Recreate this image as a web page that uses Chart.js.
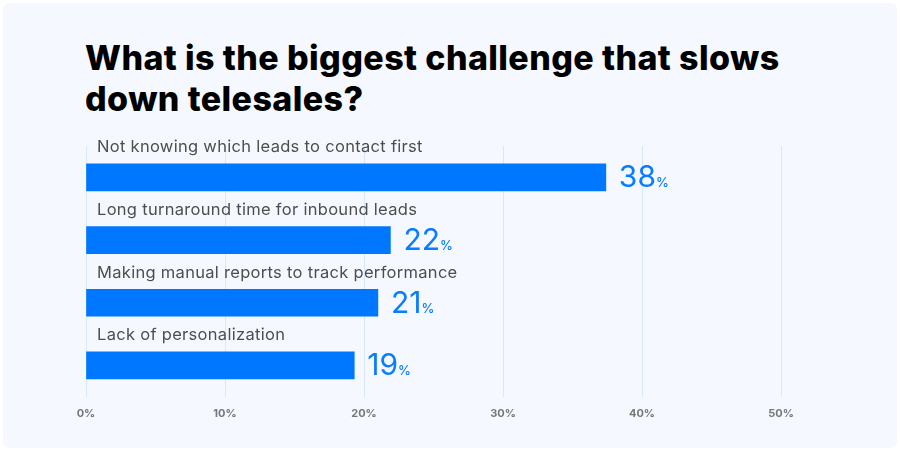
<!DOCTYPE html>
<html>
<head>
<meta charset="utf-8">
<script src="https://cdn.jsdelivr.net/npm/chart.js@4/dist/chart.umd.min.js"></script>
<style>
  html, body { margin: 0; padding: 0; background: #fff; }
  #card {
    position: absolute; left: 3px; top: 3px; width: 894px; height: 445px;
    background: #f5f9ff; border-radius: 6px;
  }
  #title {
    position: absolute; left: 85px; top: 37px; width: 780px;
    font-family: Inter, "Noto Sans", sans-serif; font-weight: 800;
    font-size: 34px; line-height: 41px; color: #000; letter-spacing: 0.4px;
  }
  #wrap { position: absolute; left: 0; top: 0; width: 900px; height: 451px; }
</style>
</head>
<body>
<div id="card"></div>
<div id="title">What is the biggest challenge that slows<br>down telesales?</div>
<div id="wrap"><canvas id="chart" width="900" height="451"></canvas></div>
<script>
// data
const categories = [
  'Not knowing which leads to contact first',
  'Long turnaround time for inbound leads',
  'Making manual reports to track performance',
  'Lack of personalization'
];
const values = [37.4, 21.9, 21.0, 19.3];
const valueLabels = ['38', '22', '21', '19'];
const xTicks = [0, 10, 20, 30, 40, 50];

const barBlue = '#0077ff';

/* ===== labels above and beside bars ===== */
const labelPlugin = {
  id: 'barLabels',
  afterDatasetsDraw(chart) {
    const ctx = chart.ctx;
    const meta = chart.getDatasetMeta(0);
    const left = chart.chartArea.left;
    ctx.save();
    meta.data.forEach((bar, i) => {
      // category text above bar
      ctx.font = '400 16.5px Inter, "Noto Sans", sans-serif';
      ctx.letterSpacing = '0.3px';
      ctx.fillStyle = '#4d4d4d';
      ctx.textBaseline = 'middle';
      ctx.textAlign = 'left';
      ctx.fillText(categories[i], left + 11, bar.y - 30);
      ctx.letterSpacing = '0px';

      // value text right of bar
      ctx.textBaseline = 'alphabetic';
      ctx.fillStyle = '#0a7cff';
      ctx.font = '400 30px Inter, "Noto Sans", sans-serif';
      const x = bar.x + 13;
      ctx.fillText(valueLabels[i], x, bar.y + 10);
      const w = ctx.measureText(valueLabels[i]).width;
      ctx.font = '500 13px Inter, "Noto Sans", sans-serif';
      ctx.fillText('%', x + w, bar.y + 10);
    });
    ctx.restore();
  }
};

const ctx = document.getElementById('chart').getContext('2d');
new Chart(ctx, {
  type: 'bar',
  data: {
    labels: categories,
    datasets: [{
      data: values,
      backgroundColor: barBlue,
      borderWidth: 0,
      barThickness: 27
    }]
  },
  options: {
    indexAxis: 'y',
    responsive: false,
    animation: false,
    layout: { padding: { left: 86, right: 119, top: 146, bottom: 21 } },
    plugins: { legend: { display: false }, tooltip: { enabled: false } },
    scales: {
      x: {
        min: 0, max: 50,
        afterBuildTicks: axis => { axis.ticks = xTicks.map(v => ({ value: v })); },
        grid: { color: '#d8e8fa', lineWidth: 1, drawTicks: false },
        border: { display: false },
        ticks: {
          padding: 10,
          color: '#777',
          font: { family: 'Inter, "Noto Sans", sans-serif', size: 11, weight: '700' },
          callback: v => v + '%'
        }
      },
      y: { display: false }
    }
  },
  plugins: [labelPlugin]
});
</script>
</body>
</html>
